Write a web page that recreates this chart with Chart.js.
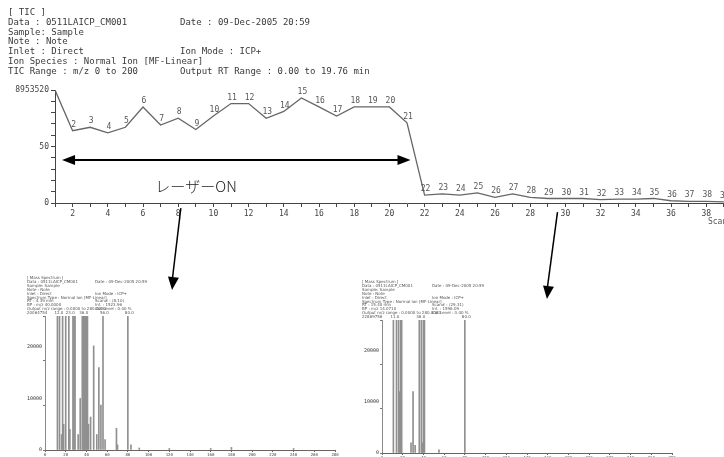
<!doctype html>
<html>
<head>
<meta charset="utf-8" />
<title>TIC レーザーON</title>
<script src="https://cdn.jsdelivr.net/npm/chart.js@4.4.1/dist/chart.umd.min.js"></script>
<style>
html, body { margin: 0; padding: 0; background: #fff; }
#wrap { position: relative; width: 724px; height: 457px; overflow: hidden; }
#tic { position: absolute; left: 0; top: 0; }
#ms1 { position: absolute; left: 0; top: 270px; }
#ms2 { position: absolute; left: 350px; top: 270px; }
</style>
</head>
<body>
<div id="wrap">
  <canvas id="tic" width="780" height="457"></canvas>
  <canvas id="ms1" width="350" height="187"></canvas>
  <canvas id="ms2" width="374" height="187"></canvas>
</div>
<script>
// TIC (relative %, top = 8953520)
const scans = [1,2,3,4,5,6,7,8,9,10,11,12,13,14,15,16,17,18,19,20,21,22,23,24,25,26,27,28,29,30,31,32,33,34,35,36,37,38,39];
const ticPct = [100,64,67,62,67,85,69,75,65,77,88,88,75,81,93,85,77,85,85,85,71,7,8,7,9,5,8,5,4,4,4,3,3.5,3.5,4,2,1.5,1.5,1];
const ticTopLabel = '8953520';
const ticHeader = [
  ['[ TIC ]', ''],
  ['Data : 0511LAICP_CM001', 'Date : 09-Dec-2005 20:59'],
  ['Sample: Sample', ''],
  ['Note : Note', ''],
  ['Inlet : Direct', 'Ion Mode : ICP+'],
  ['Ion Species : Normal Ion [MF-Linear]', ''],
  ['TIC Range : m/z 0 to 200', 'Output RT Range : 0.00 to 19.76 min']
];
const laserText = 'レーザーON';

// mass spectra (m/z, intensity in thousands)
const spec1Mz  = [0,12,14,16,17,18,20,23,24,27,28,29,32,34,36,37,38,39,40,41,42,44,47,50,52,54,56,58,69,70,80,83,91,120,160,180,240];
const spec1Int = [30,30,30,3,30,5,30,30,4,30,30,30,3,10,30,30,30,30,30,30,5,6.4,20.2,3,16,8.7,30,2,4.2,1,30,1,0.4,0.3,0.3,0.5,0.3];
const spec2Mz  = [0,11,14,16,17,18,19,28,30,32,36,38,39,40,41,55,80];
const spec2Int = [30,30,30,30,12,30,30,2,12,1.5,30,30,2,30,30,0.6,30];
const spec1Header = [
  ['[ Mass Spectrum ]', ''],
  ['Data : 0511LAICP_CM001', 'Date : 09-Dec-2005 20:59'],
  ['Sample: Sample', ''],
  ['Note : Note', ''],
  ['Inlet : Direct', 'Ion Mode : ICP+'],
  ['Spectrum Type : Normal Ion [MF-Linear]', ''],
  ['RT : 4.39 min', 'Scan# : (8,10)'],
  ['BP : m/z 40.0000', 'Int. : 1523.96'],
  ['Output m/z range : 0.0000 to 280.0000', 'Cut Level : 0.00 %'],
  ['20064754', '']
];
const spec2Header = [
  ['[ Mass Spectrum ]', ''],
  ['Data : 0511LAICP_CM001', 'Date : 09-Dec-2005 20:59'],
  ['Sample: Sample', ''],
  ['Note : Note', ''],
  ['Inlet : Direct', 'Ion Mode : ICP+'],
  ['Spectrum Type : Normal Ion [MF-Linear]', ''],
  ['RT : 15.40 min', 'Scan# : (29,31)'],
  ['BP : m/z 14.0710', 'Int. : 1596.09'],
  ['Output m/z range : 0.0000 to 280.0000', 'Cut Level : 0.00 %'],
  ['22869756', '']
];

const mono = 'DejaVu Sans Mono';

function arrowHead(ctx, x1, y1, x2, y2, len, half) {
  const a = Math.atan2(y2 - y1, x2 - x1);
  ctx.beginPath();
  ctx.moveTo(x2, y2);
  ctx.lineTo(x2 - len * Math.cos(a) + half * Math.sin(a), y2 - len * Math.sin(a) - half * Math.cos(a));
  ctx.lineTo(x2 - len * Math.cos(a) - half * Math.sin(a), y2 - len * Math.sin(a) + half * Math.cos(a));
  ctx.closePath();
  ctx.fill();
}

const ticDecor = {
  id: 'ticDecor',
  afterDraw(chart) {
    const ctx = chart.ctx, xs = chart.scales.x, ys = chart.scales.y;
    const px = v => xs.getPixelForValue(v), py = v => ys.getPixelForValue(v);
    ctx.save();
    // header block
    ctx.fillStyle = '#3a3a3a';
    ctx.font = '9px "' + mono + '"';
    ctx.textBaseline = 'middle';
    ticHeader.forEach((r, i) => {
      const y = 13 + i * 9.7;
      ctx.fillText(r[0], 8, y);
      if (r[1]) ctx.fillText(r[1], 180, y);
    });
    // scan numbers on the trace
    const meta = chart.getDatasetMeta(0);
    ctx.font = '8px "' + mono + '"';
    ctx.textAlign = 'center';
    ctx.textBaseline = 'bottom';
    ctx.fillStyle = '#555';
    meta.data.forEach((p, i) => {
      if (i === 0) return;
      ctx.fillText(String(scans[i]), p.x + 1, p.y - 2);
    });
    // x axis title
    ctx.textAlign = 'left';
    ctx.textBaseline = 'middle';
    ctx.fillText('Scan', px(38.1), py(-17));
    // laser-on double arrow
    ctx.strokeStyle = '#000';
    ctx.fillStyle = '#000';
    ctx.lineWidth = 2;
    const ax1 = px(1.4), ax2 = px(21.2), ay = py(38);
    ctx.beginPath(); ctx.moveTo(ax1 + 8, ay); ctx.lineTo(ax2 - 8, ay); ctx.stroke();
    arrowHead(ctx, ax2, ay, ax1, ay, 13, 5);
    arrowHead(ctx, ax1, ay, ax2, ay, 13, 5);
    ctx.fillStyle = '#222';
    ctx.font = '300 15px "Noto Sans CJK JP"';
    ctx.fillText(laserText, px(6.7), py(15));
    // arrows to the spectra
    ctx.fillStyle = '#000';
    ctx.lineWidth = 1.5;
    [[8.15, -4.5, 7.65, -77], [29.55, -8, 28.95, -85]].forEach(a => {
      const x1 = px(a[0]), y1 = py(a[1]), x2 = px(a[2]), y2 = py(a[3]);
      ctx.beginPath(); ctx.moveTo(x1, y1); ctx.lineTo(x2, y2 - 8); ctx.stroke();
      arrowHead(ctx, x1, y1, x2, y2, 13, 5.5);
    });
    ctx.restore();
  }
};

new Chart(document.getElementById('tic'), {
  type: 'line',
  data: {
    datasets: [{
      data: scans.map((s, i) => ({ x: s, y: ticPct[i] })),
      borderColor: '#666',
      borderWidth: 1.3,
      pointRadius: 0,
      tension: 0
    }]
  },
  options: {
    responsive: false,
    animation: false,
    layout: { padding: { top: 90, left: 0, right: 21, bottom: 234 } },
    plugins: { legend: { display: false }, tooltip: { enabled: false } },
    scales: {
      x: {
        type: 'linear', min: 1, max: 41,
        afterFit(s) { s.height = 20; },
        border: { color: '#444' },
        grid: { drawOnChartArea: false, tickLength: 4, color: '#444' },
        ticks: {
          stepSize: 1, autoSkip: false, maxRotation: 0, padding: 2, color: '#444',
          font: { family: mono, size: 8 },
          callback: v => (v % 2 === 0 && v <= 38) ? String(v) : ''
        }
      },
      y: {
        min: 0, max: 100,
        afterFit(s) { s.width = 55; },
        border: { color: '#444' },
        grid: { drawOnChartArea: false, tickLength: 4, color: '#444' },
        ticks: {
          stepSize: 10, autoSkip: false, padding: 2, color: '#444',
          font: { family: mono, size: 8 },
          callback: v => v === 0 ? '0' : v === 50 ? '50' : v === 100 ? ticTopLabel : ''
        }
      }
    }
  },
  plugins: [ticDecor]
});

function spectrum(id, mz, inten, header, g) {
  const yMax = 26000;
  const decor = {
    id: 'specDecor',
    afterDraw(chart) {
      const ctx = chart.ctx, xs = chart.scales.x, ys = chart.scales.y;
      ctx.save();
      ctx.fillStyle = '#555';
      ctx.font = '4px "DejaVu Sans"';
      ctx.textBaseline = 'middle';
      header.forEach((r, i) => {
        const y = g.hy + i * 3.9;
        ctx.fillText(r[0], g.hx, y);
        if (r[1]) ctx.fillText(r[1], g.hx2, y);
      });
      // m/z labels over the clipped peaks
      const y = g.hy + (header.length - 1) * 3.9;
      let last = -99;
      mz.forEach((m, i) => {
        if (inten[i] * 1000 <= yMax || m === 0) return;
        const x = xs.getPixelForValue(m);
        if (x - last < 9) return;
        ctx.fillText(m.toFixed(1), x - 3, y);
        last = x;
      });
      // intensity labels on the y axis
      ctx.fillStyle = '#333';
      ctx.font = '5px "' + mono + '"';
      ctx.textAlign = 'right';
      [0, 10000, 20000].forEach(v => {
        ctx.fillText(String(v), ys.left + ys.width - 3, ys.getPixelForValue(v));
      });
      ctx.restore();
    }
  };
  new Chart(document.getElementById(id), {
    type: 'bar',
    data: {
      datasets: [{
        data: mz.map((m, i) => ({ x: m, y: inten[i] * 1000 })),
        backgroundColor: '#909090',
        barThickness: 1
      }]
    },
    options: {
      responsive: false,
      animation: false,
      layout: { padding: { top: g.top, left: 0, right: g.right, bottom: g.bottom } },
      plugins: { legend: { display: false }, tooltip: { enabled: false } },
      scales: {
        x: {
          type: 'linear', min: 0, max: 280, offset: false,
          afterFit(s) { s.height = g.xh; },
          border: { color: '#666' },
          grid: { drawOnChartArea: false, offset: false, tickLength: 2, color: '#666' },
          ticks: { stepSize: 20, autoSkip: false, maxRotation: 0, padding: 0.5, color: '#444', font: { family: mono, size: 4 } }
        },
        y: {
          min: 0, max: yMax,
          afterFit(s) { s.width = g.yw; },
          border: { color: '#777' },
          grid: { drawOnChartArea: false, tickLength: 2, color: '#777' },
          ticks: { stepSize: 10000, autoSkip: false, display: false }
        }
      }
    },
    plugins: [decor]
  });
}

spectrum('ms1', spec1Mz, spec1Int, spec1Header,
  { top: 46, right: 15, bottom: 0, xh: 7, yw: 45, hx: 27, hx2: 95, hy: 8 });
spectrum('ms2', spec2Mz, spec2Int, spec2Header,
  { top: 50, right: 52, bottom: 0, xh: 4, yw: 32, hx: 12, hx2: 82, hy: 12 });
</script>
</body>
</html>
